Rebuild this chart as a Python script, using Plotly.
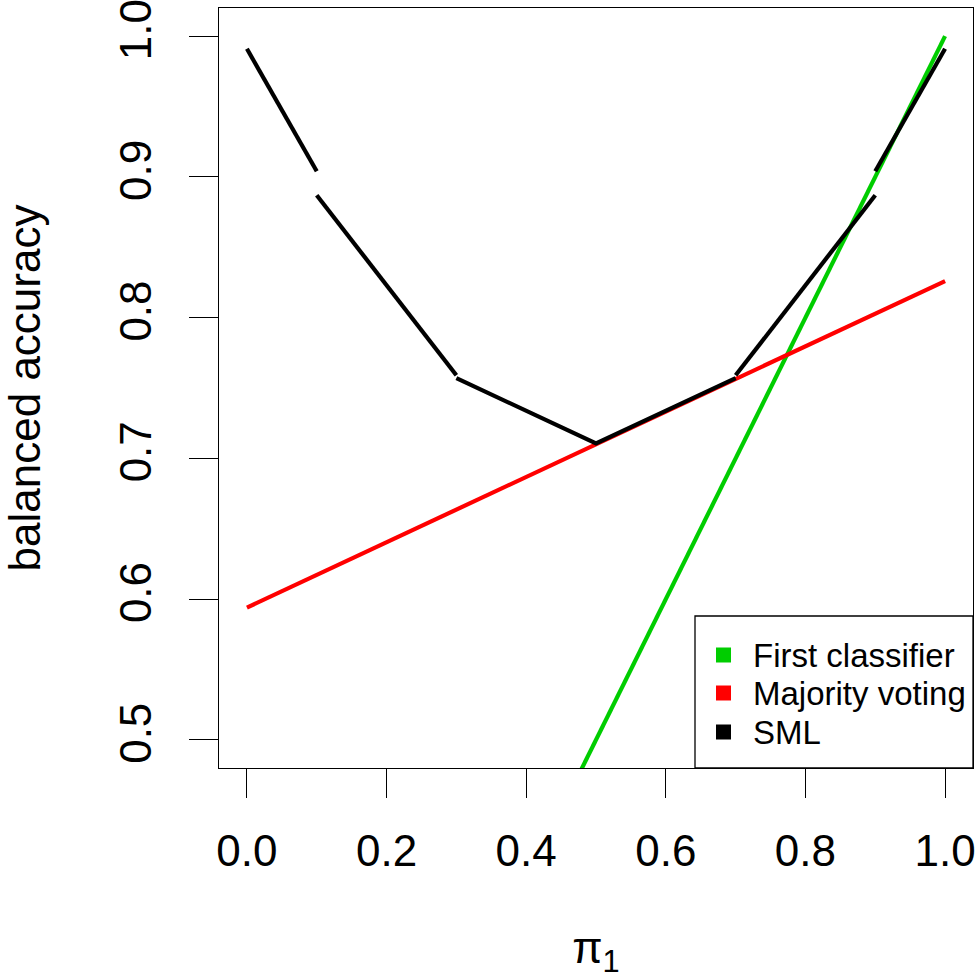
import plotly.graph_objects as go

# ---- data ----
pi1_first = [0.0, 1.0]
acc_first = [0.0, 1.0]

pi1_majority = [0.0, 1.0]
acc_majority = [0.594, 0.826]

sml_seg1_x = [0.0, 0.1]
sml_seg1_y = [0.991, 0.904]
sml_seg2_x = [0.1, 0.3]
sml_seg2_y = [0.887, 0.759]
sml_seg3_x = [0.3, 0.5, 0.7]
sml_seg3_y = [0.757, 0.7106, 0.757]
sml_seg4_x = [0.7, 0.9]
sml_seg4_y = [0.759, 0.887]
sml_seg5_x = [0.9, 1.0]
sml_seg5_y = [0.904, 0.991]

x_ticks = [0.0, 0.2, 0.4, 0.6, 0.8, 1.0]
y_ticks = [0.5, 0.6, 0.7, 0.8, 0.9, 1.0]

legend_labels = ["First classifier", "Majority voting", "SML"]
legend_colors = ["#00CD00", "#FF0000", "#000000"]

FONT = "Liberation Sans, Arial, Helvetica, sans-serif"
W, H = 979, 979
L, R, T, B = 219, 6, 8, 211
PW, PH = W - L - R, H - T - B

def join_segments(segs):
    xs, ys = [], []
    for i, (sx, sy) in enumerate(segs):
        if i:
            xs.append(None); ys.append(None)
        xs.extend(sx); ys.extend(sy)
    return xs, ys

sml_x, sml_y = join_segments([
    (sml_seg1_x, sml_seg1_y), (sml_seg2_x, sml_seg2_y), (sml_seg3_x, sml_seg3_y),
    (sml_seg4_x, sml_seg4_y), (sml_seg5_x, sml_seg5_y)])

LW = 4.2
fig = go.Figure()
fig.add_trace(go.Scatter(x=pi1_first, y=acc_first, mode="lines",
                         line=dict(color=legend_colors[0], width=LW),
                         name=legend_labels[0], showlegend=False))
fig.add_trace(go.Scatter(x=pi1_majority, y=acc_majority, mode="lines",
                         line=dict(color=legend_colors[1], width=LW),
                         name=legend_labels[1], showlegend=False))
fig.add_trace(go.Scatter(x=sml_x, y=sml_y, mode="lines", connectgaps=False,
                         line=dict(color=legend_colors[2], width=LW),
                         name=legend_labels[2], showlegend=False))

# screen pixel -> paper coordinates
def px_to_paper_x(px):
    return (px - L) / PW

def px_to_paper_y(py):
    return (H - B - py) / PH

shapes = []
annotations = []
# legend box
shapes.append(dict(type="rect", xref="paper", yref="paper",
                   x0=px_to_paper_x(695), x1=1.0, y0=0.0, y1=px_to_paper_y(616),
                   line=dict(color="black", width=1.3), fillcolor="white", layer="above"))
row_y = [655, 693, 732]
for lab, col, ry in zip(legend_labels, legend_colors, row_y):
    shapes.append(dict(type="rect", xref="paper", yref="paper",
                       x0=px_to_paper_x(716), x1=px_to_paper_x(731),
                       y0=px_to_paper_y(ry + 7.5), y1=px_to_paper_y(ry - 7.5),
                       line=dict(width=0), fillcolor=col, layer="above"))
    annotations.append(dict(xref="paper", yref="paper", x=px_to_paper_x(751),
                            y=px_to_paper_y(ry), text=lab, showarrow=False,
                            xanchor="left", yanchor="middle",
                            font=dict(family=FONT, size=33, color="black")))

axis_common = dict(showgrid=False, zeroline=False, showline=True, mirror=True,
                   linecolor="black", linewidth=1.3, ticks="outside", ticklen=29,
                   tickwidth=1.3, tickcolor="black", ticklabeloverflow="allow",
                   automargin=False,
                   tickfont=dict(family=FONT, size=44, color="black"))

fig.update_layout(
    width=W, height=H, autosize=False,
    margin=dict(l=L, r=R, t=T, b=B, autoexpand=False),
    paper_bgcolor="white", plot_bgcolor="white",
    xaxis=dict(range=[-0.04, 1.04], tickvals=x_ticks, tickformat=".1f",
               ticklabelstandoff=15,
               title=dict(text="π<sub>1</sub>", standoff=70,
                          font=dict(family=FONT, size=44, color="black")),
               **axis_common),
    yaxis=dict(range=[0.48, 1.02], tickvals=y_ticks, tickformat=".1f",
               tickangle=-90, ticklabelstandoff=20,
               title=dict(text="balanced accuracy", standoff=58,
                          font=dict(family=FONT, size=44, color="black")),
               **axis_common),
    shapes=shapes, annotations=annotations,
)

fig.write_html(
    "out.html",
    config={"displayModeBar": False, "responsive": False},
    post_script="document.body.style.margin='0';document.body.style.overflow='hidden';",
)
